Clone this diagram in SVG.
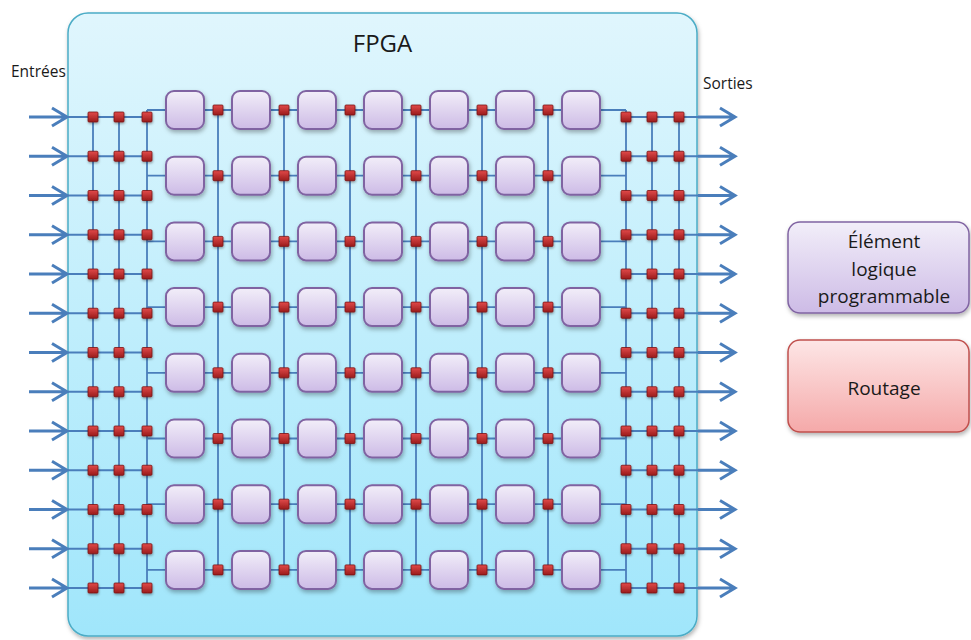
<svg xmlns="http://www.w3.org/2000/svg" width="971" height="640" viewBox="0 0 971 640">
<defs>
<linearGradient id="gBg" x1="0" y1="0" x2="0" y2="1"><stop offset="0" stop-color="#e0f6fd"/><stop offset="1" stop-color="#a0e6fb"/></linearGradient>
<linearGradient id="gLe" x1="0" y1="0" x2="0" y2="1"><stop offset="0" stop-color="#f2eef9"/><stop offset="1" stop-color="#cdbbe6"/></linearGradient>
<linearGradient id="gRt" x1="0" y1="0" x2="0" y2="1"><stop offset="0" stop-color="#fde6e6"/><stop offset="1" stop-color="#f5a9a9"/></linearGradient>
<linearGradient id="gSq" x1="0" y1="0" x2="0" y2="1"><stop offset="0" stop-color="#e24a4a"/><stop offset="1" stop-color="#9a1b1b"/></linearGradient>
<filter id="sh" x="-30%" y="-30%" width="160%" height="170%"><feDropShadow dx="1" dy="2.5" stdDeviation="2" flood-color="#000" flood-opacity="0.3"/></filter>
<filter id="shs" x="-50%" y="-50%" width="200%" height="200%"><feDropShadow dx="0.5" dy="1.5" stdDeviation="1" flood-color="#000" flood-opacity="0.35"/></filter>
<symbol id="sq" overflow="visible"><rect x="-5" y="-5" width="10" height="10" rx="1" fill="url(#gSq)" stroke="#7a1414" stroke-width="0.8" filter="url(#shs)"/></symbol>
</defs>
<style>
.le{fill:url(#gLe);stroke:#8064a2;stroke-width:2;filter:url(#sh)}
.thin{fill:none;stroke:#4a7ebb;stroke-width:1.8}
.thick{fill:none;stroke:#4a7ebb;stroke-width:3}
.t{font-family:"Open Sans","Liberation Sans",sans-serif;fill:#1a1a1a}
</style>
<rect width="971" height="640" fill="#ffffff"/>
<g id="fpga">
<rect x="68" y="13" width="629" height="623" rx="20" fill="url(#gBg)" stroke="#4bacc6" stroke-width="1.5" filter="url(#sh)"/>
<text class="t" x="382.5" y="52" font-size="24" text-anchor="middle">FPGA</text>
</g>
<text class="t" x="11" y="77" font-size="15.5">Entrées</text>
<text class="t" x="703" y="89" font-size="15.5">Sorties</text>
<g id="connectors">
<path class="thin" d="M68 117H147M68 156.25H147M68 195.5H147M68 234.75H147M68 274H147M68 313.25H147M68 352.5H147M68 391.75H147M68 431H147M68 470.25H147M68 509.5H147M68 548.75H147M68 588H147"/>
<path class="thin" d="M626 117H698M626 156.25H698M626 195.5H698M626 234.75H698M626 274H698M626 313.25H698M626 352.5H698M626 391.75H698M626 431H698M626 470.25H698M626 509.5H698M626 548.75H698M626 588H698"/>
<path class="thin" d="M93 117V588M119 117V588M147 110V588M626 110V588M652 117V588M679 117V588"/>
<path class="thin" d="M218 110V569.9M284 110V569.9M350 110V569.9M416 110V569.9M482 110V569.9M548 110V569.9"/>
<path class="thin" d="M147 110H626M147 175.7H626M147 241.4H626M147 307.1H626M147 372.8H626M147 438.5H626M147 504.2H626M147 569.9H626"/>
<path class="thick" d="M29 117H67M52 108L67 117L52 126M29 156.25H67M52 147.25L67 156.25L52 165.25M29 195.5H67M52 186.5L67 195.5L52 204.5M29 234.75H67M52 225.75L67 234.75L52 243.75M29 274H67M52 265L67 274L52 283M29 313.25H67M52 304.25L67 313.25L52 322.25M29 352.5H67M52 343.5L67 352.5L52 361.5M29 391.75H67M52 382.75L67 391.75L52 400.75M29 431H67M52 422L67 431L52 440M29 470.25H67M52 461.25L67 470.25L52 479.25M29 509.5H67M52 500.5L67 509.5L52 518.5M29 548.75H67M52 539.75L67 548.75L52 557.75M29 588H67M52 579L67 588L52 597"/>
<path class="thick" d="M698 117H735M720 108L735 117L720 126M698 156.25H735M720 147.25L735 156.25L720 165.25M698 195.5H735M720 186.5L735 195.5L720 204.5M698 234.75H735M720 225.75L735 234.75L720 243.75M698 274H735M720 265L735 274L720 283M698 313.25H735M720 304.25L735 313.25L720 322.25M698 352.5H735M720 343.5L735 352.5L720 361.5M698 391.75H735M720 382.75L735 391.75L720 400.75M698 431H735M720 422L735 431L720 440M698 470.25H735M720 461.25L735 470.25L720 479.25M698 509.5H735M720 500.5L735 509.5L720 518.5M698 548.75H735M720 539.75L735 548.75L720 557.75M698 588H735M720 579L735 588L720 597"/>
</g>
<g id="logic-elements">
<g id="le-1-1"><rect class="le" x="166" y="91" width="38" height="38" rx="8"/></g>
<g id="le-1-2"><rect class="le" x="232" y="91" width="38" height="38" rx="8"/></g>
<g id="le-1-3"><rect class="le" x="298" y="91" width="38" height="38" rx="8"/></g>
<g id="le-1-4"><rect class="le" x="364" y="91" width="38" height="38" rx="8"/></g>
<g id="le-1-5"><rect class="le" x="430" y="91" width="38" height="38" rx="8"/></g>
<g id="le-1-6"><rect class="le" x="496" y="91" width="38" height="38" rx="8"/></g>
<g id="le-1-7"><rect class="le" x="562" y="91" width="38" height="38" rx="8"/></g>
<g id="le-2-1"><rect class="le" x="166" y="156.7" width="38" height="38" rx="8"/></g>
<g id="le-2-2"><rect class="le" x="232" y="156.7" width="38" height="38" rx="8"/></g>
<g id="le-2-3"><rect class="le" x="298" y="156.7" width="38" height="38" rx="8"/></g>
<g id="le-2-4"><rect class="le" x="364" y="156.7" width="38" height="38" rx="8"/></g>
<g id="le-2-5"><rect class="le" x="430" y="156.7" width="38" height="38" rx="8"/></g>
<g id="le-2-6"><rect class="le" x="496" y="156.7" width="38" height="38" rx="8"/></g>
<g id="le-2-7"><rect class="le" x="562" y="156.7" width="38" height="38" rx="8"/></g>
<g id="le-3-1"><rect class="le" x="166" y="222.4" width="38" height="38" rx="8"/></g>
<g id="le-3-2"><rect class="le" x="232" y="222.4" width="38" height="38" rx="8"/></g>
<g id="le-3-3"><rect class="le" x="298" y="222.4" width="38" height="38" rx="8"/></g>
<g id="le-3-4"><rect class="le" x="364" y="222.4" width="38" height="38" rx="8"/></g>
<g id="le-3-5"><rect class="le" x="430" y="222.4" width="38" height="38" rx="8"/></g>
<g id="le-3-6"><rect class="le" x="496" y="222.4" width="38" height="38" rx="8"/></g>
<g id="le-3-7"><rect class="le" x="562" y="222.4" width="38" height="38" rx="8"/></g>
<g id="le-4-1"><rect class="le" x="166" y="288.1" width="38" height="38" rx="8"/></g>
<g id="le-4-2"><rect class="le" x="232" y="288.1" width="38" height="38" rx="8"/></g>
<g id="le-4-3"><rect class="le" x="298" y="288.1" width="38" height="38" rx="8"/></g>
<g id="le-4-4"><rect class="le" x="364" y="288.1" width="38" height="38" rx="8"/></g>
<g id="le-4-5"><rect class="le" x="430" y="288.1" width="38" height="38" rx="8"/></g>
<g id="le-4-6"><rect class="le" x="496" y="288.1" width="38" height="38" rx="8"/></g>
<g id="le-4-7"><rect class="le" x="562" y="288.1" width="38" height="38" rx="8"/></g>
<g id="le-5-1"><rect class="le" x="166" y="353.8" width="38" height="38" rx="8"/></g>
<g id="le-5-2"><rect class="le" x="232" y="353.8" width="38" height="38" rx="8"/></g>
<g id="le-5-3"><rect class="le" x="298" y="353.8" width="38" height="38" rx="8"/></g>
<g id="le-5-4"><rect class="le" x="364" y="353.8" width="38" height="38" rx="8"/></g>
<g id="le-5-5"><rect class="le" x="430" y="353.8" width="38" height="38" rx="8"/></g>
<g id="le-5-6"><rect class="le" x="496" y="353.8" width="38" height="38" rx="8"/></g>
<g id="le-5-7"><rect class="le" x="562" y="353.8" width="38" height="38" rx="8"/></g>
<g id="le-6-1"><rect class="le" x="166" y="419.5" width="38" height="38" rx="8"/></g>
<g id="le-6-2"><rect class="le" x="232" y="419.5" width="38" height="38" rx="8"/></g>
<g id="le-6-3"><rect class="le" x="298" y="419.5" width="38" height="38" rx="8"/></g>
<g id="le-6-4"><rect class="le" x="364" y="419.5" width="38" height="38" rx="8"/></g>
<g id="le-6-5"><rect class="le" x="430" y="419.5" width="38" height="38" rx="8"/></g>
<g id="le-6-6"><rect class="le" x="496" y="419.5" width="38" height="38" rx="8"/></g>
<g id="le-6-7"><rect class="le" x="562" y="419.5" width="38" height="38" rx="8"/></g>
<g id="le-7-1"><rect class="le" x="166" y="485.2" width="38" height="38" rx="8"/></g>
<g id="le-7-2"><rect class="le" x="232" y="485.2" width="38" height="38" rx="8"/></g>
<g id="le-7-3"><rect class="le" x="298" y="485.2" width="38" height="38" rx="8"/></g>
<g id="le-7-4"><rect class="le" x="364" y="485.2" width="38" height="38" rx="8"/></g>
<g id="le-7-5"><rect class="le" x="430" y="485.2" width="38" height="38" rx="8"/></g>
<g id="le-7-6"><rect class="le" x="496" y="485.2" width="38" height="38" rx="8"/></g>
<g id="le-7-7"><rect class="le" x="562" y="485.2" width="38" height="38" rx="8"/></g>
<g id="le-8-1"><rect class="le" x="166" y="550.9" width="38" height="38" rx="8"/></g>
<g id="le-8-2"><rect class="le" x="232" y="550.9" width="38" height="38" rx="8"/></g>
<g id="le-8-3"><rect class="le" x="298" y="550.9" width="38" height="38" rx="8"/></g>
<g id="le-8-4"><rect class="le" x="364" y="550.9" width="38" height="38" rx="8"/></g>
<g id="le-8-5"><rect class="le" x="430" y="550.9" width="38" height="38" rx="8"/></g>
<g id="le-8-6"><rect class="le" x="496" y="550.9" width="38" height="38" rx="8"/></g>
<g id="le-8-7"><rect class="le" x="562" y="550.9" width="38" height="38" rx="8"/></g>
</g>
<g id="switches-left">
<use href="#sq" x="93" y="117"/><use href="#sq" x="119" y="117"/><use href="#sq" x="147" y="117"/>
<use href="#sq" x="93" y="156.25"/><use href="#sq" x="119" y="156.25"/><use href="#sq" x="147" y="156.25"/>
<use href="#sq" x="93" y="195.5"/><use href="#sq" x="119" y="195.5"/><use href="#sq" x="147" y="195.5"/>
<use href="#sq" x="93" y="234.75"/><use href="#sq" x="119" y="234.75"/><use href="#sq" x="147" y="234.75"/>
<use href="#sq" x="93" y="274"/><use href="#sq" x="119" y="274"/><use href="#sq" x="147" y="274"/>
<use href="#sq" x="93" y="313.25"/><use href="#sq" x="119" y="313.25"/><use href="#sq" x="147" y="313.25"/>
<use href="#sq" x="93" y="352.5"/><use href="#sq" x="119" y="352.5"/><use href="#sq" x="147" y="352.5"/>
<use href="#sq" x="93" y="391.75"/><use href="#sq" x="119" y="391.75"/><use href="#sq" x="147" y="391.75"/>
<use href="#sq" x="93" y="431"/><use href="#sq" x="119" y="431"/><use href="#sq" x="147" y="431"/>
<use href="#sq" x="93" y="470.25"/><use href="#sq" x="119" y="470.25"/><use href="#sq" x="147" y="470.25"/>
<use href="#sq" x="93" y="509.5"/><use href="#sq" x="119" y="509.5"/><use href="#sq" x="147" y="509.5"/>
<use href="#sq" x="93" y="548.75"/><use href="#sq" x="119" y="548.75"/><use href="#sq" x="147" y="548.75"/>
<use href="#sq" x="93" y="588"/><use href="#sq" x="119" y="588"/><use href="#sq" x="147" y="588"/>
</g>
<g id="switches-right">
<use href="#sq" x="626" y="117"/><use href="#sq" x="652" y="117"/><use href="#sq" x="679" y="117"/>
<use href="#sq" x="626" y="156.25"/><use href="#sq" x="652" y="156.25"/><use href="#sq" x="679" y="156.25"/>
<use href="#sq" x="626" y="195.5"/><use href="#sq" x="652" y="195.5"/><use href="#sq" x="679" y="195.5"/>
<use href="#sq" x="626" y="234.75"/><use href="#sq" x="652" y="234.75"/><use href="#sq" x="679" y="234.75"/>
<use href="#sq" x="626" y="274"/><use href="#sq" x="652" y="274"/><use href="#sq" x="679" y="274"/>
<use href="#sq" x="626" y="313.25"/><use href="#sq" x="652" y="313.25"/><use href="#sq" x="679" y="313.25"/>
<use href="#sq" x="626" y="352.5"/><use href="#sq" x="652" y="352.5"/><use href="#sq" x="679" y="352.5"/>
<use href="#sq" x="626" y="391.75"/><use href="#sq" x="652" y="391.75"/><use href="#sq" x="679" y="391.75"/>
<use href="#sq" x="626" y="431"/><use href="#sq" x="652" y="431"/><use href="#sq" x="679" y="431"/>
<use href="#sq" x="626" y="470.25"/><use href="#sq" x="652" y="470.25"/><use href="#sq" x="679" y="470.25"/>
<use href="#sq" x="626" y="509.5"/><use href="#sq" x="652" y="509.5"/><use href="#sq" x="679" y="509.5"/>
<use href="#sq" x="626" y="548.75"/><use href="#sq" x="652" y="548.75"/><use href="#sq" x="679" y="548.75"/>
<use href="#sq" x="626" y="588"/><use href="#sq" x="652" y="588"/><use href="#sq" x="679" y="588"/>
</g>
<g id="switches-core">
<use href="#sq" x="218" y="110"/><use href="#sq" x="284" y="110"/><use href="#sq" x="350" y="110"/><use href="#sq" x="416" y="110"/><use href="#sq" x="482" y="110"/><use href="#sq" x="548" y="110"/>
<use href="#sq" x="218" y="175.7"/><use href="#sq" x="284" y="175.7"/><use href="#sq" x="350" y="175.7"/><use href="#sq" x="416" y="175.7"/><use href="#sq" x="482" y="175.7"/><use href="#sq" x="548" y="175.7"/>
<use href="#sq" x="218" y="241.4"/><use href="#sq" x="284" y="241.4"/><use href="#sq" x="350" y="241.4"/><use href="#sq" x="416" y="241.4"/><use href="#sq" x="482" y="241.4"/><use href="#sq" x="548" y="241.4"/>
<use href="#sq" x="218" y="307.1"/><use href="#sq" x="284" y="307.1"/><use href="#sq" x="350" y="307.1"/><use href="#sq" x="416" y="307.1"/><use href="#sq" x="482" y="307.1"/><use href="#sq" x="548" y="307.1"/>
<use href="#sq" x="218" y="372.8"/><use href="#sq" x="284" y="372.8"/><use href="#sq" x="350" y="372.8"/><use href="#sq" x="416" y="372.8"/><use href="#sq" x="482" y="372.8"/><use href="#sq" x="548" y="372.8"/>
<use href="#sq" x="218" y="438.5"/><use href="#sq" x="284" y="438.5"/><use href="#sq" x="350" y="438.5"/><use href="#sq" x="416" y="438.5"/><use href="#sq" x="482" y="438.5"/><use href="#sq" x="548" y="438.5"/>
<use href="#sq" x="218" y="504.2"/><use href="#sq" x="284" y="504.2"/><use href="#sq" x="350" y="504.2"/><use href="#sq" x="416" y="504.2"/><use href="#sq" x="482" y="504.2"/><use href="#sq" x="548" y="504.2"/>
<use href="#sq" x="218" y="569.9"/><use href="#sq" x="284" y="569.9"/><use href="#sq" x="350" y="569.9"/><use href="#sq" x="416" y="569.9"/><use href="#sq" x="482" y="569.9"/><use href="#sq" x="548" y="569.9"/>
</g>
<g id="legend-logic">
<rect x="788" y="222" width="181" height="91" rx="12" fill="url(#gLe)" stroke="#8064a2" stroke-width="1.5" filter="url(#sh)"/>
<text class="t" x="884" y="248" font-size="19" text-anchor="middle">Élément</text>
<text class="t" x="884" y="275.5" font-size="19" text-anchor="middle">logique</text>
<text class="t" x="884" y="303" font-size="19" text-anchor="middle">programmable</text>
</g>
<g id="legend-routing">
<rect x="788" y="340" width="181" height="92" rx="12" fill="url(#gRt)" stroke="#c0504d" stroke-width="1.5" filter="url(#sh)"/>
<text class="t" x="884" y="395" font-size="19" text-anchor="middle">Routage</text>
</g>
</svg>
